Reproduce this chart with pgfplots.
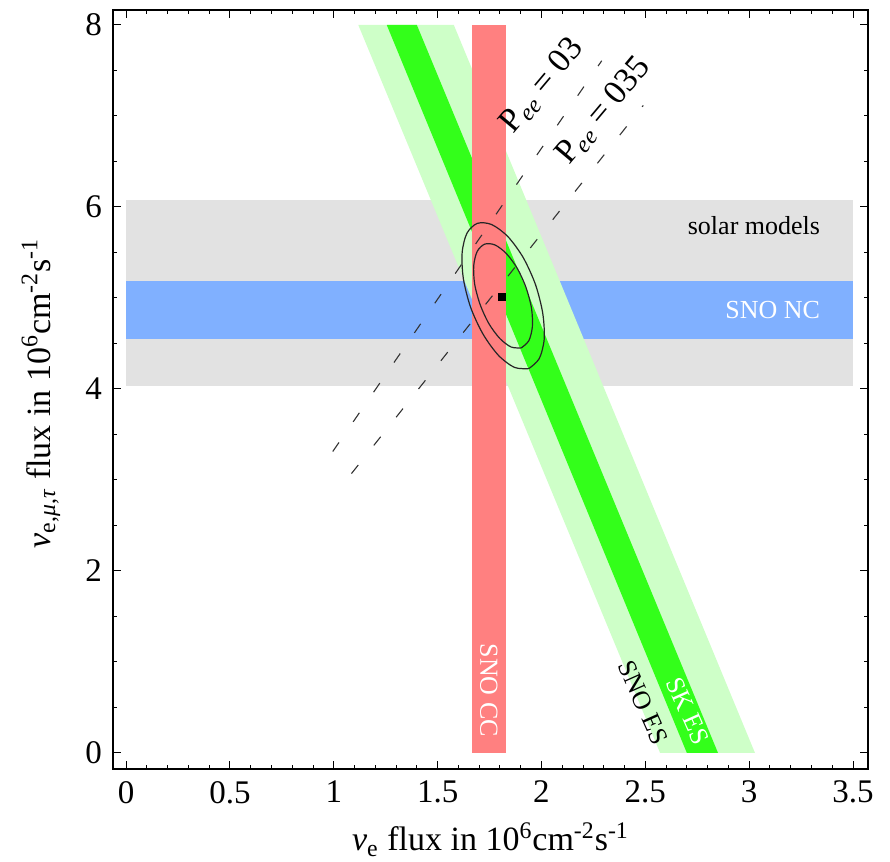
\documentclass[border=0pt]{standalone}
\usepackage{fontspec}
\setmainfont{Liberation Serif}
\usepackage{pgfplots}
\pgfplotsset{compat=1.18}
\definecolor{gband}{RGB}{226,226,226}
\definecolor{bband}{RGB}{128,176,255}
\definecolor{rband}{RGB}{255,128,128}
\definecolor{dgreen}{RGB}{51,255,26}
\definecolor{lgreen}{RGB}{206,255,200}
\begin{document}
\begin{tikzpicture}
\begin{axis}[
  scale only axis, width=377.5pt, height=379.5pt,
  xmin=-0.063, xmax=3.572, ymin=-0.176, ymax=8.165,
  xtick={0,0.5,1,1.5,2,2.5,3,3.5}, minor x tick num=4,
  ytick={0,2,4,6,8}, minor y tick num=3,
  tick align=inside,
  major tick length=4pt, minor tick length=2pt,
  every tick/.style={black, line width=0.5pt},
  axis line style={line width=0.75pt},
  /pgf/number format/assume math mode=true,
  ticklabel style={font=\fontsize{16.5}{20}\selectfont},
  xticklabel style={yshift=-2.5pt},
  yticklabel style={xshift=-2pt},
  label style={font=\fontsize{17}{20}\selectfont},
  xlabel={\textit{ν}\textsubscript{e} flux in 10\textsuperscript{6}cm\textsuperscript{-2}s\textsuperscript{-1}},
  ylabel={\textit{ν}\textsubscript{e,\textit{μ},\textit{τ}} flux in 10\textsuperscript{6}cm\textsuperscript{-2}s\textsuperscript{-1}},
  xlabel style={at={(axis description cs:0.5,-0.108)}, anchor=base},
  ylabel style={at={(axis description cs:-0.0834,0.495)}, anchor=base},
]
% solar models
\addplot[fill=gband, draw=none] coordinates {(0,4.03) (3.5,4.03) (3.5,6.08) (0,6.08)} -- cycle;
% SNO NC
\addplot[fill=bband, draw=none] coordinates {(0,4.55) (3.5,4.55) (3.5,5.19) (0,5.19)} -- cycle;
% SNO ES
\addplot[fill=lgreen, draw=none] coordinates {(1.118,8) (1.578,8) (3.028,0) (2.571,0)} -- cycle;
% SK ES
\addplot[fill=dgreen, draw=none] coordinates {(1.255,8) (1.400,8) (2.850,0) (2.700,0)} -- cycle;
% SNO CC
\addplot[fill=rband, draw=none] coordinates {(1.665,0) (1.830,0) (1.830,8) (1.665,8)} -- cycle;
% Pee lines
\addplot[black!80, line width=0.55pt, dash pattern=on 5.5pt off 12.5pt] coordinates {(0.995,3.313) (2.290,7.607)};
\addplot[black!80, line width=0.55pt, dash pattern=on 5.5pt off 12.5pt] coordinates {(1.085,3.070) (2.490,7.116)};
% inner contour
\addplot[smooth, black!85, line width=0.6pt] coordinates {
(1.903,4.452) (1.939,4.530) (1.956,4.683) (1.952,4.887) (1.926,5.112) (1.884,5.323) (1.831,5.488) (1.776,5.583)
(1.727,5.592) (1.691,5.514) (1.674,5.361) (1.678,5.157) (1.704,4.932) (1.746,4.721) (1.799,4.556) (1.854,4.461) (1.903,4.452)};
% outer contour
\addplot[smooth, black!85, line width=0.6pt] coordinates {
(1.939,4.224) (1.989,4.333) (2.013,4.547) (2.006,4.833) (1.971,5.148) (1.912,5.444) (1.838,5.675) (1.760,5.807)
(1.691,5.820) (1.641,5.711) (1.618,5.497) (1.624,5.211) (1.659,4.896) (1.719,4.601) (1.793,4.369) (1.870,4.237) (1.939,4.224)};
% best fit
\addplot[only marks, mark=square*, mark size=1.6pt, black] coordinates {(1.81,5.01)};
% labels
\node[font=\fontsize{13}{15}\selectfont, anchor=east] at (axis cs:3.375,5.8) {solar models};
\node[font=\fontsize{13}{15}\selectfont, text=white, anchor=east] at (axis cs:3.375,4.87) {SNO NC};
\node[font=\fontsize{13}{15}\selectfont, text=white, rotate=-90] at (axis cs:1.747,0.69) {SNO CC};
\node[font=\fontsize{13}{15}\selectfont, text=white, rotate=-66] at (axis cs:2.705,0.46) {SK ES};
\node[font=\fontsize{13}{15}\selectfont, rotate=-66] at (axis cs:2.49,0.555) {SNO ES};
\node[font=\fontsize{17}{20}\selectfont, rotate=50, inner sep=0pt] at (axis cs:2.005,7.33) {P\textsubscript{\textit{ee}} = 03};
\node[font=\fontsize{17}{20}\selectfont, rotate=50, inner sep=0pt] at (axis cs:2.30,7.06) {P\textsubscript{\textit{ee}} = 035};
\end{axis}
\pgfresetboundingbox
\path (current axis.south west) ++(-56.5pt,-46.5pt) rectangle ++(445pt,431pt);
\end{tikzpicture}
\end{document}
